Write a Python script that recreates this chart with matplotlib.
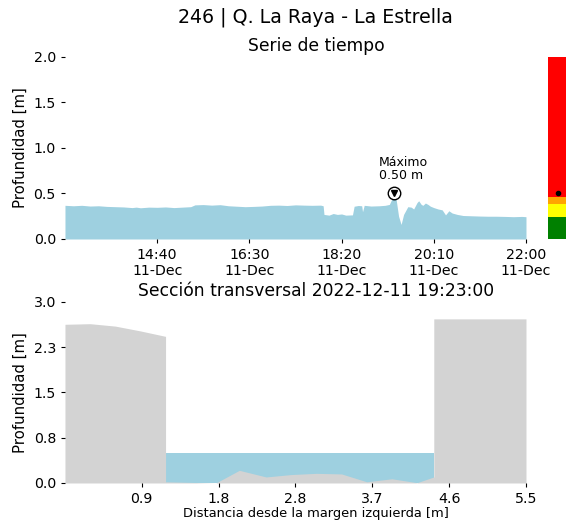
import matplotlib
matplotlib.use("Agg")
import matplotlib.pyplot as plt
import matplotlib.dates as mdates
import numpy as np
import pandas as pd

# serie de tiempo (hora, profundidad en m)
horas = ["12:50", "13:00", "13:10", "13:20", "13:30", "13:40", "13:50", "14:00",
         "14:10", "14:15", "14:20", "14:30", "14:40", "14:50", "15:00", "15:10",
         "15:20", "15:25", "15:35", "15:45", "15:55", "16:05", "16:15", "16:25",
         "16:35", "16:45", "16:55", "17:05", "17:15", "17:25", "17:35", "17:45",
         "17:55", "17:58", "17:59", "18:05", "18:10", "18:15", "18:20", "18:25",
         "18:33", "18:35", "18:40", "18:44", "18:45", "18:47", "18:55", "19:05",
         "19:12", "19:17", "19:20", "19:23", "19:25", "19:28", "19:31", "19:34",
         "19:39", "19:43", "19:46", "19:50", "19:52", "19:55", "19:57", "20:00",
         "20:03", "20:06", "20:10", "20:15", "20:20", "20:24", "20:28", "20:32",
         "20:38", "20:45", "20:55", "21:05", "21:15", "21:25", "21:35", "21:45",
         "21:55", "22:00"]
profundidad = [0.37, 0.365, 0.37, 0.362, 0.365, 0.358, 0.355, 0.352,
               0.345, 0.35, 0.343, 0.35, 0.348, 0.352, 0.345, 0.35,
               0.355, 0.375, 0.378, 0.372, 0.377, 0.365, 0.36, 0.355,
               0.358, 0.362, 0.37, 0.372, 0.368, 0.375, 0.372, 0.37,
               0.372, 0.365, 0.27, 0.262, 0.28, 0.27, 0.275, 0.262,
               0.265, 0.36, 0.368, 0.365, 0.30, 0.37, 0.362, 0.365,
               0.37, 0.38, 0.44, 0.50, 0.44, 0.25, 0.16, 0.27,
               0.355, 0.35, 0.33, 0.40, 0.42, 0.38, 0.37, 0.395,
               0.38, 0.36, 0.345, 0.33, 0.32, 0.265, 0.31, 0.285,
               0.27, 0.258, 0.255, 0.252, 0.25, 0.25, 0.248, 0.245,
               0.248, 0.245]

# niveles de alerta
niveles = [0.24, 0.385, 0.46, 2.0]
colores_nivel = ["green", "yellow", "orange", "red"]

# seccion transversal
distancia = [0, 0.3, 0.6, 0.9, 1.2, 1.2, 1.5, 1.8, 2.08, 2.4, 2.7, 3.0, 3.3,
             3.6, 3.9, 4.2, 4.4, 4.4, 5.5]
fondo = [2.63, 2.64, 2.6, 2.52, 2.43, 0.02, 0.01, 0.0, 0.21, 0.1, 0.14, 0.16,
         0.15, 0.02, 0.07, 0.005, 0.1, 2.72, 2.72]
nivel_agua = 0.50
x_agua = [1.2, 4.4]

yticks_sec = [0.0, 0.75, 1.5, 2.25, 3.0]
yticklabels_sec = ["0.0", "0.8", "1.5", "2.3", "3.0"]

azul = "#9ed0e0"
gris = "lightgray"

t = pd.to_datetime(["2022-12-11 " + h for h in horas])
prof = np.array(profundidad)

fig = plt.figure(figsize=(5.66, 5.27), dpi=100)
fig.suptitle("246 | Q. La Raya - La Estrella", fontsize=13.7, x=0.557, y=0.985)

# los titulos del original quedan centrados un poco a la derecha del eje
xc = (316 - 65) / 461

# ---- serie de tiempo
ax1 = fig.add_axes([0.1148, 0.5465, 0.8145, 0.3454])
ax1.fill_between(t, 0, prof, color=azul, lw=0)
ax1.set_xlim(t[0], t[-1])
ax1.set_ylim(0, 2.0)
ax1.set_yticks([0.0, 0.5, 1.0, 1.5, 2.0])
ticks = pd.to_datetime(["2022-12-11 " + h for h in ["14:40", "16:30", "18:20", "20:10", "22:00"]])
ax1.set_xticks(ticks)
ax1.xaxis.set_major_formatter(mdates.DateFormatter("%H:%M\n%d-%b"))
ax1.set_ylabel("Profundidad [m]", fontsize=10.7)
ax1.set_title("Serie de tiempo", fontsize=12.3, pad=4, x=xc)
for s in ax1.spines.values():
    s.set_visible(False)
ax1.tick_params(labelsize=10.2, length=3)

imax = int(np.argmax(prof))
ax1.plot(t[imax], prof[imax], "o", ms=9, mfc="white", mec="black", mew=1)
ax1.plot(t[imax], prof[imax], "v", ms=5, color="black")
ax1.annotate("Máximo\n%.2f m" % prof[imax], xy=(t[imax], prof[imax]),
             xytext=(-11, 8), textcoords="offset points", ha="left", va="bottom",
             fontsize=9, linespacing=1.0)

# ---- barra de niveles
axc = fig.add_axes([0.9682, 0.5465, 0.0353, 0.3454])
abajo = 0
for n, c in zip(niveles, colores_nivel):
    axc.bar(0, n - abajo, bottom=abajo, width=1, color=c)
    abajo = n
axc.plot(0, prof[imax], "o", ms=3, color="black")
axc.set_xlim(-0.5, 0.5)
axc.set_ylim(0, 2.0)
axc.axis("off")

# ---- seccion transversal
ax2 = fig.add_axes([0.1148, 0.0835, 0.8145, 0.3435])
ax2.fill_between(x_agua, 0, nivel_agua, color=azul, lw=0)
ax2.fill_between(distancia, 0, fondo, color=gris, lw=0)
ax2.set_xlim(0, 5.5)
ax2.set_ylim(0, 3.0)
xt = [5.5 / 6 * k for k in range(1, 7)]
ax2.set_xticks(xt)
ax2.set_xticklabels(["%.1f" % v for v in [0.9, 1.8, 2.8, 3.7, 4.6, 5.5]])
ax2.set_yticks(yticks_sec)
ax2.set_yticklabels(yticklabels_sec)
ax2.set_ylabel("Profundidad [m]", fontsize=10.7)
ax2.set_xlabel("Distancia desde la margen izquierda [m]", fontsize=9.4)
ax2.xaxis.set_label_coords(xc, -0.135)
ax2.set_title("Sección transversal 2022-12-11 19:23:00", fontsize=12.3, pad=4, x=xc)
for s in ax2.spines.values():
    s.set_visible(False)
ax2.tick_params(labelsize=10.2, length=3)

fig.savefig("out.png", dpi=100)
